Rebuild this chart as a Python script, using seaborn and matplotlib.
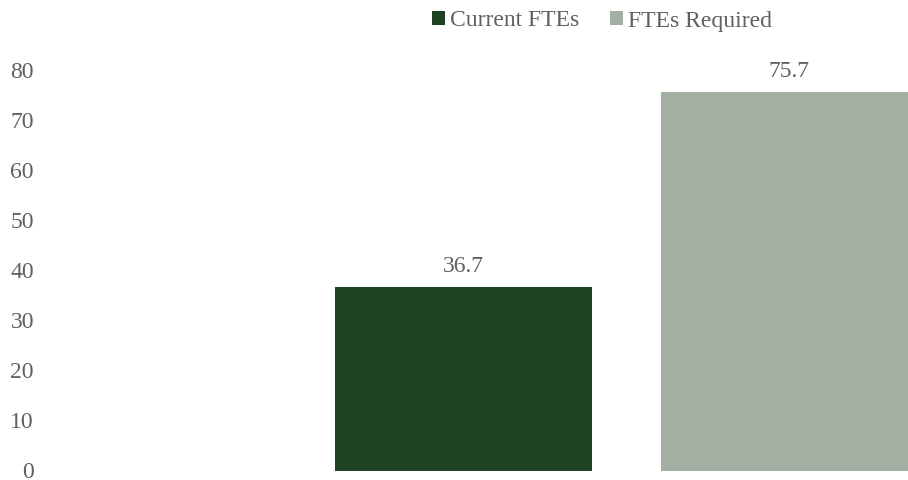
import matplotlib
matplotlib.use("Agg")
import matplotlib.pyplot as plt
import seaborn as sns
import pandas as pd

series = ["Current FTEs", "FTEs Required"]
values = [36.7, 75.7]
colors = ["#1F4423", "#A2AFA2"]
yticks = [0, 10, 20, 30, 40, 50, 60, 70, 80]

sns.set_style("white")
plt.rcParams["font.family"] = ["Liberation Serif", "DejaVu Serif"]
text_color = "#606060"

df = pd.DataFrame({"series": series, "value": values})

fig = plt.figure(figsize=(9.08, 4.8), dpi=100)
# axes spans to the right edge; second bar is cut off like in the reference
ax = fig.add_axes([45 / 908, 9.5 / 480, 1 - 45 / 908, 400 / 480])

sns.barplot(data=df, x="series", y="value", hue="series",
            palette=colors, width=0.788, saturation=1, linewidth=0,
            ax=ax, legend=True)

ax.set_xlim((45 - 463.5) / 326, (908 - 463.5) / 326)
ax.set_ylim(0, 80)
ax.set_yticks(yticks)
ax.set_xticks([])
ax.set_xlabel("")
ax.set_ylabel("")
sns.despine(ax=ax, left=True, bottom=True)
ax.tick_params(axis="y", length=0, pad=8, labelsize=17, labelcolor=text_color)

for cont in ax.containers:
    ax.bar_label(cont, fmt="%.1f", padding=7, fontsize=17, color=text_color)

sns.move_legend(ax, "center", bbox_to_anchor=(602 / 908, 1 - 21 / 480),
                bbox_transform=fig.transFigure, ncol=2, frameon=False,
                title=None, fontsize=17, handlelength=0.55, handleheight=0.55,
                handletextpad=0.2, columnspacing=1.3)
for t in ax.get_legend().get_texts():
    t.set_color(text_color)

fig.savefig("out.png", dpi=100)
